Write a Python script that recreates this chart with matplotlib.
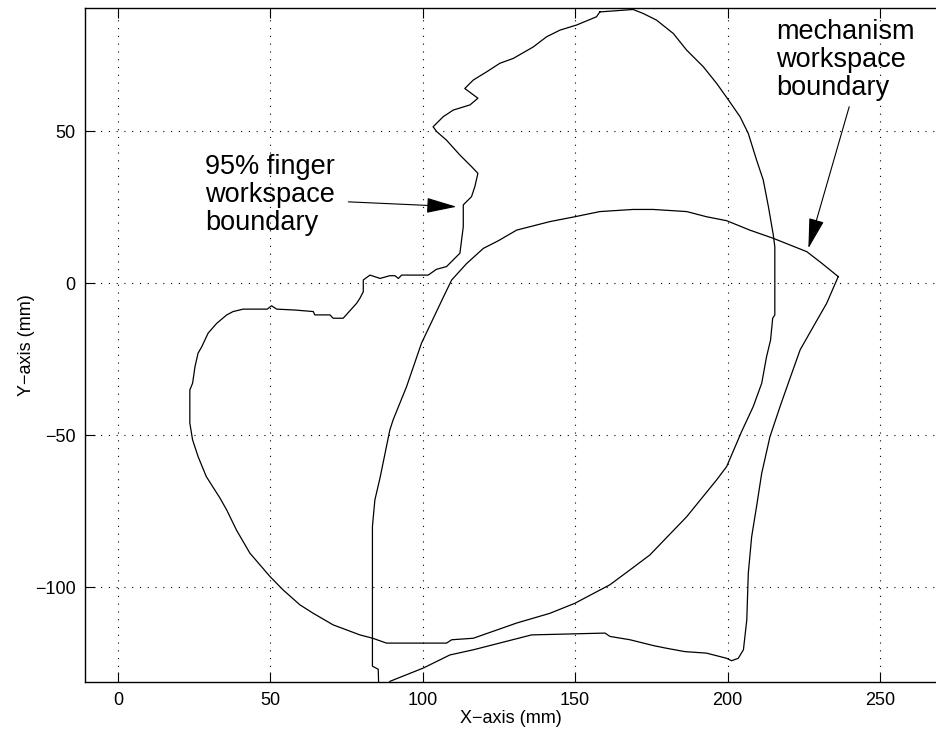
import matplotlib
matplotlib.use("Agg")
import matplotlib.pyplot as plt

plt.rcParams['font.family'] = ['Liberation Sans', 'DejaVu Sans']

# 95% finger workspace boundary (closed loop)
finger_x = [158.1, 169.0, 172.3, 176.7, 182.2, 186.6, 192.0, 196.4, 200.3, 204.1,
            206.8, 209.5, 211.7, 213.4, 215.0, 215.5, 215.5, 214.8, 214.1, 212.8,
            211.2, 208.4, 204.6, 199.7, 196.4, 186.6, 174.5, 168.0, 161.4, 149.9,
            141.7, 130.8, 116.6, 109.5, 107.8, 88.1, 83.6, 79.4, 70.6, 64.1,
            59.7, 54.2, 49.9, 43.3, 38.9, 35.7, 33.5, 29.0, 26.3, 24.5,
            23.6, 23.6, 24.5, 25.3, 26.3, 27.5, 29.6, 32.4, 35.7, 37.8,
            41.1, 49.0, 50.4, 52.1, 58.1, 64.1, 64.6, 69.6, 70.6, 73.9,
            78.3, 79.4, 80.5, 80.5, 82.7, 86.0, 89.2, 90.9, 92.0, 93.1,
            101.8, 104.5, 107.8, 112.2, 113.3, 113.3, 116.0, 117.1, 118.1, 116.0,
            112.2, 107.8, 104.6, 103.4, 106.7, 110.0, 115.5, 118.1, 113.8, 116.6,
            121.0, 125.3, 129.7, 136.3, 140.6, 145.0, 150.5, 157.0, 158.1]
finger_y = [89.3, 90.1, 88.8, 86.6, 82.2, 76.7, 71.3, 65.8, 60.3, 54.8,
            49.3, 40.6, 34.0, 25.2, 15.9, 12.0, -10.4, -11.5, -18.7, -24.1,
            -32.9, -40.6, -48.8, -60.3, -64.7, -76.8, -89.4, -94.3, -99.2, -105.3,
            -108.6, -111.8, -116.8, -117.3, -118.4, -118.4, -116.8, -115.7, -112.4, -108.6,
            -105.8, -100.9, -96.5, -88.8, -81.2, -74.6, -70.7, -63.6, -57.0, -51.5,
            -46.0, -35.1, -32.9, -27.4, -23.0, -20.9, -16.4, -13.2, -10.4, -9.3,
            -8.5, -8.5, -7.4, -8.5, -8.8, -9.3, -10.4, -10.4, -11.5, -11.5,
            -6.6, -4.9, -2.8, 1.1, 2.7, 1.6, 2.5, 2.5, 1.6, 2.7,
            2.7, 4.6, 5.5, 9.9, 18.6, 25.8, 28.5, 31.8, 36.2, 38.4,
            42.2, 47.1, 49.9, 51.5, 54.8, 57.0, 58.7, 60.9, 64.1, 66.9,
            69.6, 72.4, 74.0, 77.8, 81.1, 83.3, 85.0, 87.7, 89.3]

# mechanism workspace boundary (closed loop, clipped at the bottom)
mech_x = [236.3, 230.9, 226.0, 215.0, 207.3, 199.7, 193.1, 186.6, 175.6, 169.0,
          158.1, 149.9, 141.7, 130.8, 124.8, 119.9, 114.4, 109.5, 106.7, 99.6,
          94.7, 90.3, 89.2, 88.1, 86.0, 84.3, 83.5, 83.5, 85.4, 85.6,
          88.6, 89.2, 100.2, 108.9, 116.6, 135.7, 159.8, 161.4, 168.0, 175.6,
          180.0, 186.0, 193.1, 199.7, 201.3, 203.5, 205.2, 206.3, 206.8, 207.9,
          209.5, 211.2, 213.9, 217.2, 219.9, 223.8, 228.1, 232.5, 236.3]
mech_y = [2.2, 6.6, 10.4, 14.8, 17.5, 20.6, 21.9, 23.6, 24.3, 24.3,
          23.6, 21.9, 20.3, 17.5, 14.0, 11.5, 6.5, 1.1, -4.7, -19.7,
          -34.0, -44.9, -48.3, -53.7, -64.0, -71.3, -80.0, -126.0, -127.0, -134.0,
          -134.0, -131.0, -126.6, -122.3, -120.6, -115.7, -115.1, -116.2, -117.3, -119.2,
          -120.1, -121.2, -121.7, -123.4, -124.2, -123.4, -120.6, -110.8, -95.4, -83.4,
          -73.5, -62.5, -50.5, -40.6, -32.9, -21.9, -14.3, -6.6, 2.2]

x_ticks = [0, 50, 100, 150, 200, 250]
y_ticks = [-100, -50, 0, 50]

fig = plt.figure(figsize=(9.37, 7.32), dpi=100)
ax = fig.add_axes([0.091, 0.0683, 0.909, 0.9204])

ax.plot(finger_x, finger_y, color='black', lw=0.9)
ax.plot(mech_x, mech_y, color='black', lw=0.9)

ax.set_xlim(-10.7, 268.7)
ax.set_ylim(-131.2, 90.5)
ax.set_xticks(x_ticks)
ax.set_yticks(y_ticks)
ax.grid(True, color='black', linestyle=(0, (1, 6)), lw=0.8)
ax.spines['right'].set_visible(False)
for s in ['left', 'bottom', 'top']:
    ax.spines[s].set_linewidth(1.0)
ax.tick_params(direction='in', length=7, width=0.8, top=True, right=False,
               labelsize=13, pad=7)

ax.set_xlabel('X\u2212axis (mm)', fontsize=13, labelpad=1)
ax.set_ylabel('Y\u2212axis (mm)', fontsize=13, labelpad=0)

arrow_style = '-|>,head_length=1.9,head_width=0.48'

ax.text(28.5, 17.5, '95% finger\nworkspace\nboundary', fontsize=19.5,
        ha='left', va='baseline', linespacing=1.1)
ax.annotate('', xy=(111.1, 25.2), xytext=(75.6, 26.8),
            arrowprops=dict(arrowstyle=arrow_style, color='black', lw=0.8,
                            shrinkA=0, shrinkB=0))
ax.text(216.0, 61.9, 'mechanism\nworkspace\nboundary', fontsize=19.5,
        ha='left', va='baseline', linespacing=1.1)
ax.annotate('', xy=(226.5, 11.5), xytext=(239.9, 58.1),
            arrowprops=dict(arrowstyle=arrow_style, color='black', lw=0.8,
                            shrinkA=0, shrinkB=0))

fig.savefig('out.png', dpi=100, facecolor='white')
